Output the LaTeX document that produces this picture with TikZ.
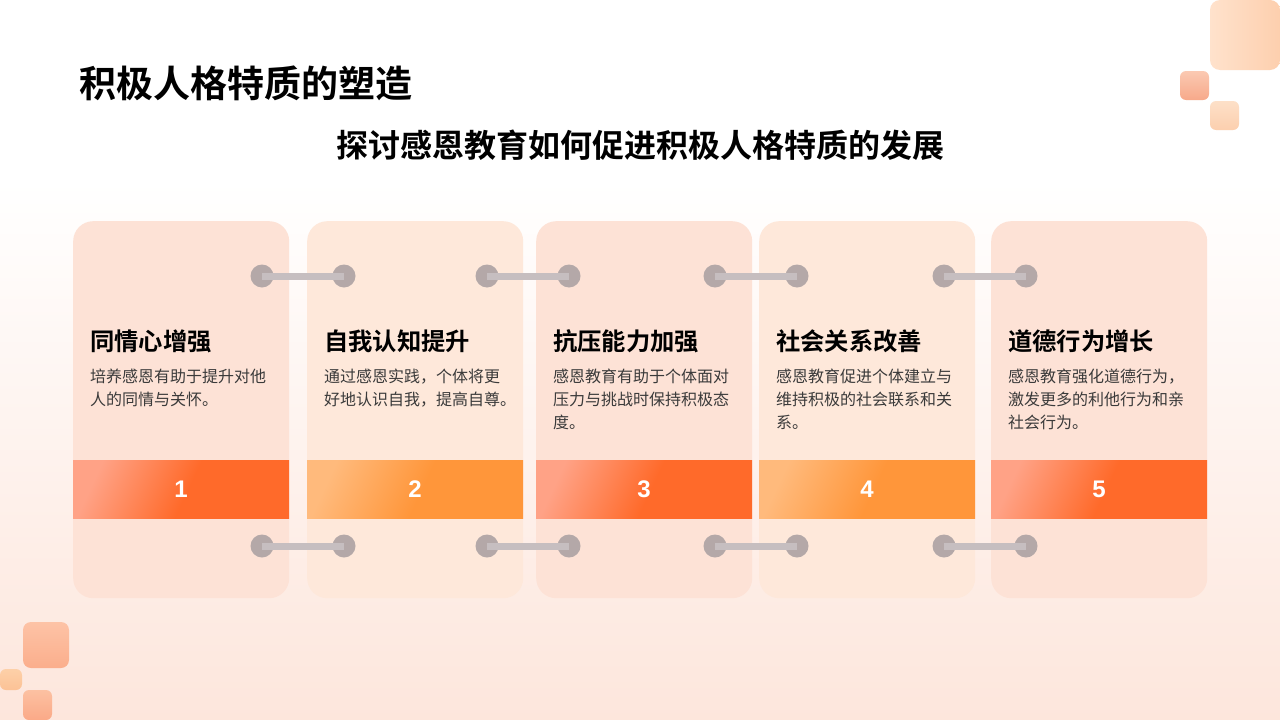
\documentclass[tikz,border=0pt]{standalone}
\usepackage{fontspec}
\setmainfont{Noto Sans CJK SC}
\newfontfamily\cjkb{Noto Sans CJK SC Bold}
\newfontfamily\numf{Liberation Sans}
\usetikzlibrary{positioning}
\definecolor{cardA}{HTML}{FDE2D6}
\definecolor{cardB}{HTML}{FEE8DA}
\definecolor{barA}{HTML}{FF6A2A}
\definecolor{barAl}{HTML}{FFA286}
\definecolor{barB}{HTML}{FF963A}
\definecolor{barBl}{HTML}{FFBA7C}
\definecolor{dotc}{HTML}{B4A8A8}
\definecolor{linec}{HTML}{C6BEC0}
\definecolor{desc}{HTML}{3A3A3A}
\definecolor{bgbot}{HTML}{FDE6DC}
\definecolor{dA1}{HTML}{FFE2CC}
\definecolor{dA2}{HTML}{FDCFAE}
\definecolor{dB1}{HTML}{FBC9B2}
\definecolor{dB2}{HTML}{F7A98A}
\definecolor{dC1}{HTML}{FDE0C8}
\definecolor{dC2}{HTML}{FCCFAE}
\definecolor{dD1}{HTML}{FDC3A6}
\definecolor{dD2}{HTML}{FBAE8C}
\definecolor{dE1}{HTML}{FDD0A8}
\definecolor{dE2}{HTML}{FCC296}
\definecolor{dF1}{HTML}{FCC1A2}
\definecolor{dF2}{HTML}{FBA987}
\pgfdeclarehorizontalshading{barAsh}{100bp}{color(0bp)=(barAl); color(25bp)=(barAl); color(52bp)=(barA); color(100bp)=(barA)}
\pgfdeclarehorizontalshading{barBsh}{100bp}{color(0bp)=(barBl); color(25bp)=(barBl); color(52bp)=(barB); color(100bp)=(barB)}
\tikzset{
  cardbox/.style={rounded corners=20pt, minimum width=216pt, minimum height=377pt, inner sep=0pt, draw=none},
  barbox/.style={minimum width=216pt, minimum height=58pt, inner sep=0pt, draw=none, text=white, font=\numf\bfseries\fontsize{24}{26}\selectfont},
  ctitle/.style={anchor=west, inner sep=0pt, font=\cjkb\fontsize{24.3}{28}\selectfont, text=black},
  cdesc/.style={anchor=north west, inner sep=0pt, align=left, font=\fontsize{16}{23}\selectfont, text=desc},
  dot/.style={circle, fill=dotc, minimum size=23pt, inner sep=0pt},
  link/.style={draw=linec, line width=7pt},
  deco/.style={rounded corners=6pt, draw=none}
}
\begin{document}
\begin{tikzpicture}[x=1pt,y=-1pt]
\useasboundingbox (0,0) rectangle (1280,720);
\fill[white] (0,0) rectangle (1280,720);
\shade[top color=white, bottom color=bgbot] (0,180) rectangle (1280,720);
% decorations
\shade[deco, rounded corners=10pt, shading angle=45, left color=dA1, right color=dA2] (1210,0) rectangle (1280,70);
\shade[deco, top color=dB1, bottom color=dB2] (1180,71) rectangle (1209,100);
\shade[deco, top color=dC1, bottom color=dC2] (1210,101) rectangle (1239,130);
\shade[deco, rounded corners=8pt, top color=dD1, bottom color=dD2] (23,622) rectangle (69,668);
\shade[deco, top color=dE1, bottom color=dE2] (0,669) rectangle (22,690);
\shade[deco, top color=dF1, bottom color=dF2] (23,690) rectangle (52,720);
% titles
\node[anchor=west, inner sep=0pt, font=\cjkb\fontsize{37}{42}\selectfont] (title) at (79,83) {积极人格特质的塑造};
\node[inner sep=0pt, font=\cjkb\fontsize{32}{36}\selectfont] (subtitle) at (640,145) {探讨感恩教育如何促进积极人格特质的发展};
% cards
\foreach \i/\x/\cc/\bs in {1/73/cardA/barAsh, 2/307/cardB/barBsh, 3/536/cardA/barAsh, 4/759/cardB/barBsh, 5/991/cardA/barAsh} {
  \node[cardbox, fill=\cc, anchor=north west] (card\i) at (\x,221) {};
  \shade[shading=\bs, shading angle=-25] (\x,460) rectangle ++(216,58);
  \node[barbox] (bar\i) at (\x+108,489) {\i};
}
\node[ctitle] (t1) at (90,341) {同情心增强};
\node[cdesc] (d1) at (90,369) {培养感恩有助于提升对他\\人的同情与关怀。};
\node[ctitle] (t2) at (324,341) {自我认知提升};
\node[cdesc] (d2) at (324,369) {通过感恩实践，个体将更\\好地认识自我，提高自尊。};
\node[ctitle] (t3) at (553,341) {抗压能力加强};
\node[cdesc] (d3) at (553,369) {感恩教育有助于个体面对\\压力与挑战时保持积极态\\度。};
\node[ctitle] (t4) at (776,341) {社会关系改善};
\node[cdesc] (d4) at (776,369) {感恩教育促进个体建立与\\维持积极的社会联系和关\\系。};
\node[ctitle] (t5) at (1008,341) {道德行为增长};
\node[cdesc] (d5) at (1008,369) {感恩教育强化道德行为，\\激发更多的利他行为和亲\\社会行为。};
% connectors
\foreach \j/\xa/\xb in {1/262/344, 2/487/569, 3/715/797, 4/944/1026} {
  \node[dot] (ua\j) at (\xa,276) {};
  \node[dot] (ub\j) at (\xb,276) {};
  \draw[link] (ua\j.center) -- (ub\j.center);
  \node[dot] (la\j) at (\xa,546) {};
  \node[dot] (lb\j) at (\xb,546) {};
  \draw[link] (la\j.center) -- (lb\j.center);
}
\end{tikzpicture}
\end{document}
